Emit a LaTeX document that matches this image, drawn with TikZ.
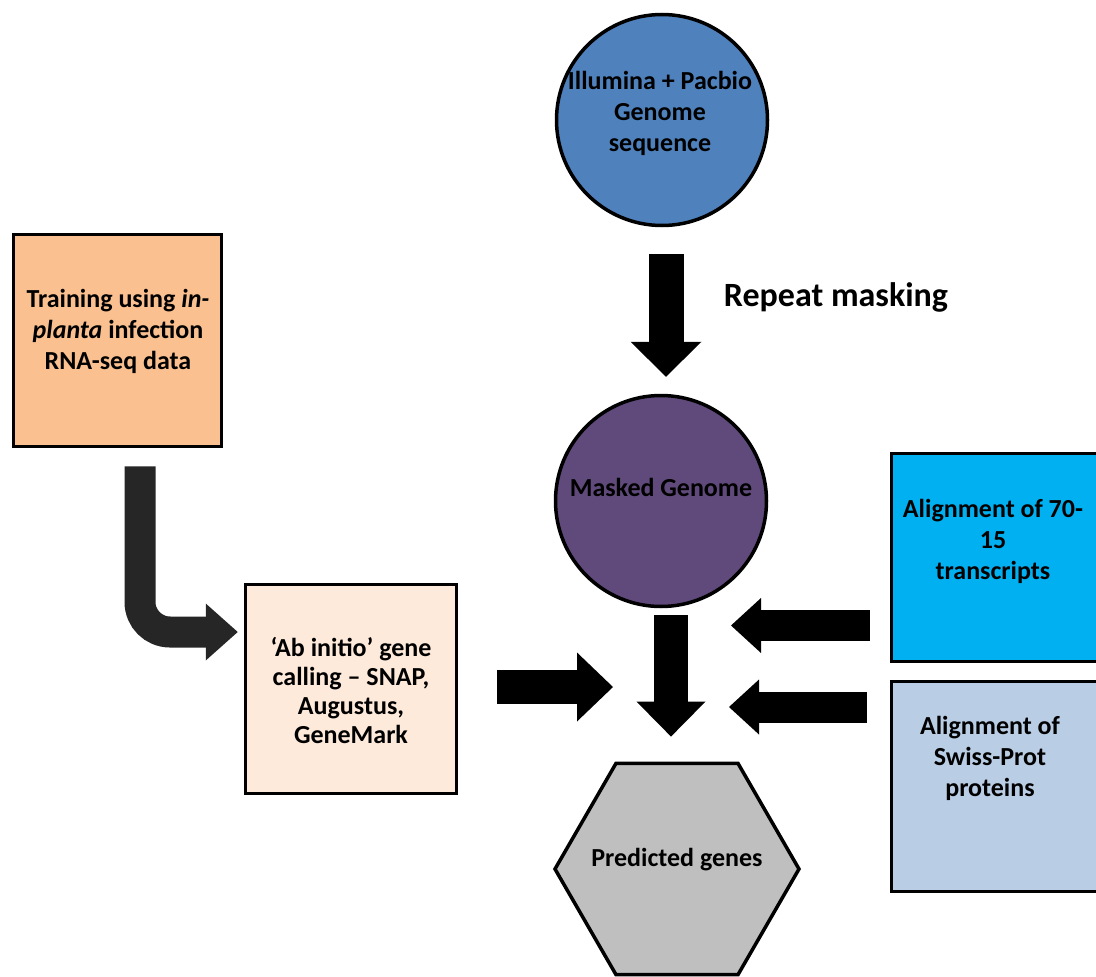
\documentclass[tikz,border=0pt]{standalone}
\usepackage{fontspec}
\setmainfont{Carlito}
\usepackage{tikz}
\usetikzlibrary{arrows.meta,positioning,shapes.geometric}
\definecolor{seqblue}{HTML}{4F81BD}
\definecolor{maskpurple}{HTML}{604A7B}
\definecolor{trainorange}{HTML}{FAC090}
\definecolor{peach}{HTML}{FDEADA}
\definecolor{trcyan}{HTML}{00B0F0}
\definecolor{protblue}{HTML}{B9CDE5}
\definecolor{predgrey}{HTML}{BFBFBF}

\begin{document}
\begin{tikzpicture}[x=1pt, y=-1pt,
    seqdisc/.style={circle, draw=black, line width=3.5pt,
        minimum size=211pt, inner sep=0pt},
    datacard/.style={rectangle, draw=black, line width=3.5pt,
        minimum width=209pt, minimum height=209pt, inner sep=0pt},
    lbl/.style={font=\bfseries\fontsize{26}{31}\selectfont, align=center,
        inner sep=0pt},
    blockarr/.style={line width=34pt,
        -{Triangle[length=35pt, width=69pt, line width=0pt]}},
    sidearr/.style={line width=31pt,
        -{Triangle[length=30pt, width=55pt, line width=0pt]}},
    bentarr/.style={line width=31pt, black!85, rounded corners=30pt,
        -{Triangle[length=32pt, width=57pt, line width=0pt]}}
]
    \useasboundingbox (0,0) rectangle (1096,977);

    % Genome path
    \node[seqdisc, fill=seqblue] (genome) at (662,120) {};
    \node[lbl] (genome-txt) at (660,113) {Illumina + Pacbio\\Genome\\sequence};
    \node[seqdisc, fill=maskpurple] (masked) at (661,501) {};
    \node[lbl] (masked-txt) at (661,487) {Masked Genome};
    \node[regular polygon, regular polygon sides=6, draw=black,
        line width=3.5pt, fill=predgrey, minimum size=244pt,
        inner sep=0pt] (predicted) at (677,869) {};
    \node[lbl] (predicted-txt) at (677,860) {Predicted genes};

    \draw[blockarr, line width=35pt,
        -{Triangle[length=35pt, width=71pt, line width=0pt]},
        shorten <=27pt, shorten >=17pt]
        ([xshift=4pt]genome.south) -- ([xshift=4pt]genome.south |- masked.north);
    \node[font=\bfseries\fontsize{34}{40}\selectfont, inner sep=0pt]
        (mask-txt) at (836,297) {Repeat masking};

    \draw[blockarr, shorten <=7pt, shorten >=25pt]
        ([xshift=10pt]masked.south) -- ([xshift=10pt]masked.south |- predicted.north);

    % Ab initio branch
    \node[datacard, fill=trainorange, minimum width=208pt,
        minimum height=212pt] (training) at (117.5,340.5) {};
    \node[lbl] (training-txt) at (118,331)
        {Training using \textit{in-}\\\textit{planta} infection\\RNA-seq data};
    \node[datacard, fill=peach, minimum width=211pt] (abinitio) at (351,689) {};
    \node[lbl, font=\bfseries\fontsize{26}{29}\selectfont] (abinitio-txt)
        at (351,690) {‘Ab initio’ gene\\calling – SNAP,\\Augustus,\\GeneMark};

    \draw[bentarr, shorten <=18pt, shorten >=6pt]
        ([xshift=22.5pt]training.south) |- ([yshift=57pt]abinitio.west);

    \coordinate (mergeW) at (613,687);
    \draw[blockarr, -{Triangle[length=36pt, width=69pt, line width=0pt]},
        shorten <=39pt] (abinitio.east |- mergeW) -- (mergeW);

    % Alignment evidence
    \node[datacard, fill=trcyan, minimum width=220pt,
        minimum height=208pt] (transcripts) at (1001.5,557.5) {};
    \node[lbl] (transcripts-txt) at (993,541) {Alignment of 70-\\15\\transcripts};
    \node[datacard, fill=protblue, minimum width=220pt,
        minimum height=210pt] (proteins) at (1001.5,786.5) {};
    \node[lbl] (proteins-txt) at (990,758) {Alignment of\\Swiss-Prot\\proteins};

    \coordinate (mergeNE) at (731,625.5);
    \coordinate (mergeSE) at (729,707);
    \draw[sidearr, shorten <=20pt] (transcripts.west |- mergeNE) -- (mergeNE);
    \draw[sidearr, shorten <=23pt] (proteins.west |- mergeSE) -- (mergeSE);
\end{tikzpicture}
\end{document}
